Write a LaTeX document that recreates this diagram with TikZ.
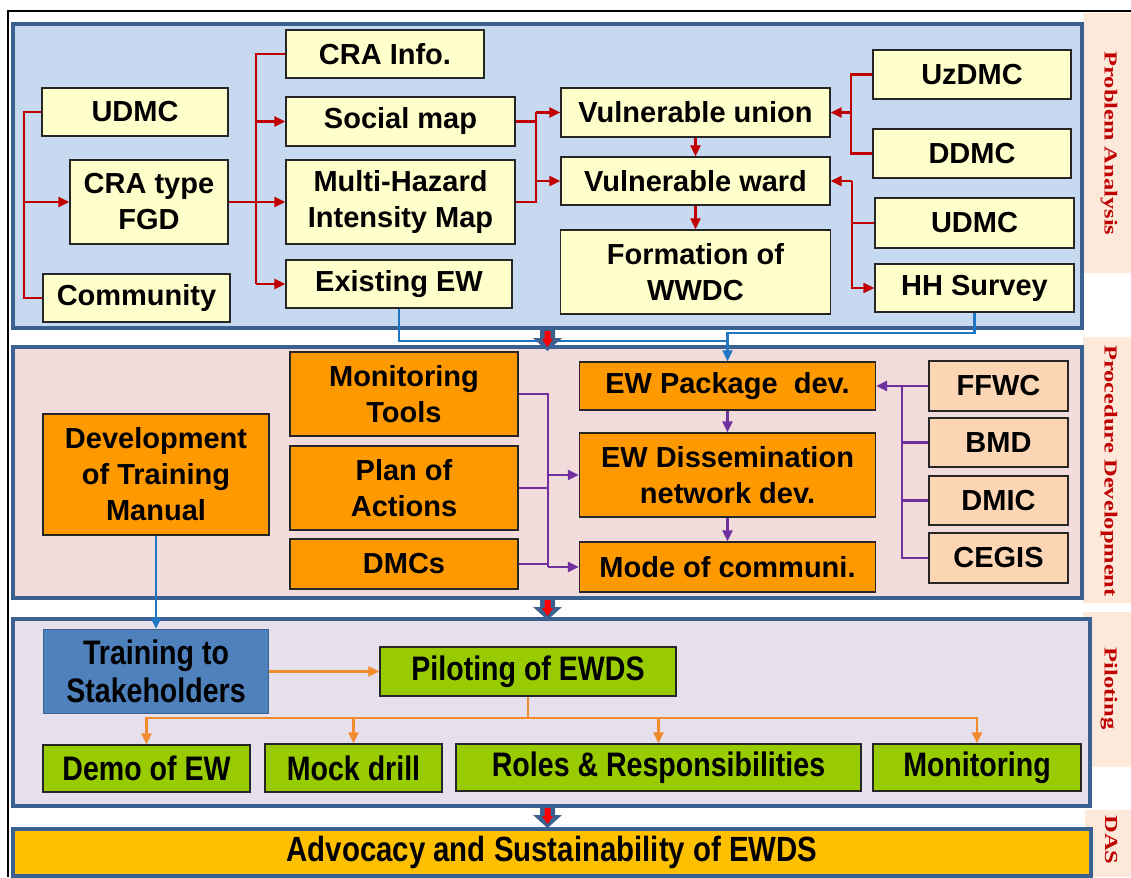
\documentclass[tikz,border=0pt]{standalone}
\usepackage{fontspec}
\setmainfont{Liberation Sans}
\newfontfamily\narrowface{Liberation Sans}[FakeStretch=0.84]
\newfontfamily\serifface{Liberation Serif}
\usetikzlibrary{arrows.meta}

\definecolor{secline}{HTML}{3B6190}
\definecolor{secA}{HTML}{C6D9F1}
\definecolor{secB}{HTML}{F2DCDB}
\definecolor{secC}{HTML}{E5E0EC}
\definecolor{strip}{HTML}{FDE9D9}
\definecolor{labelred}{HTML}{C00000}
\definecolor{boxyellow}{HTML}{FFFFCC}
\definecolor{boxorange}{HTML}{FF9900}
\definecolor{boxpeach}{HTML}{FCD5B5}
\definecolor{boxgreen}{HTML}{99CC00}
\definecolor{boxblue}{HTML}{4F81BD}
\definecolor{boxgold}{HTML}{FFC000}
\definecolor{conred}{HTML}{C00000}
\definecolor{conpurple}{HTML}{7030A0}
\definecolor{conblue}{HTML}{1F77C4}
\definecolor{conorange}{HTML}{F28A30}
\definecolor{flowred}{HTML}{FF0000}

\newcommand\secarrow[1]{%
  \begin{scope}[shift={(0,#1)}]
    \fill[secline] (540,0) -- (555,0) -- (555,9) -- (562,9) -- (547.5,22) -- (533,9) -- (540,9) -- cycle;
    \fill[flowred] (544.5,2) -- (550.5,2) -- (550.5,10) -- (553,10) -- (547.5,18) -- (542,10) -- (544.5,10) -- cycle;
  \end{scope}}

\begin{document}
\begin{tikzpicture}[x=1pt,y=-1pt,
  box/.style={draw=black!85, line width=1.4pt, inner sep=0pt, align=center,
              font=\bfseries\fontsize{29}{36}\selectfont},
  nbox/.style={box, font=\narrowface\bfseries\fontsize{34}{38}\selectfont},
  wh/.style 2 args={minimum width=#1pt, minimum height=#2pt},
  yel/.style={box, fill=boxyellow},
  org/.style={box, fill=boxorange},
  pch/.style={box, fill=boxpeach},
  grn/.style={nbox, fill=boxgreen},
  sec/.style={draw=secline, line width=3.5pt},
  side/.style={rotate=-90, text=labelred, inner sep=0pt,
               font=\serifface\bfseries\fontsize{24.5}{26}\selectfont},
  tip/.style={-{Triangle[length=11pt,width=10pt]}},
  redl/.style={draw=conred, line width=2.4pt},
  purl/.style={draw=conpurple, line width=2.4pt},
  bluel/.style={draw=conblue, line width=2.2pt},
  orgl/.style={draw=conorange, line width=2.4pt},
]
\useasboundingbox (0,0) rectangle (1131,877);
\fill[white] (0,0) rectangle (1131,877);

% outer frame
\draw[line width=1.8pt] (8,877) -- (8,11) -- (1131,11);

% side label strips
\fill[strip] (1083,13) rectangle (1131,273);
\fill[strip] (1083,337) rectangle (1131,603);
\fill[strip] (1083,612) rectangle (1131,767);
\fill[strip] (1085,810) rectangle (1131,877);
\node[side] (lblA) at (1109,143.5) {\scalebox{1}[0.75]{Problem Analysis}};
\node[side] (lblB) at (1109,471) {\scalebox{1}[0.75]{Procedure Development}};
\node[side] (lblC) at (1109,688.5) {\scalebox{1}[0.75]{Piloting}};
\node[side] (lblD) at (1111,840) {\scalebox{1}[0.75]{DAS}};

% section panels
\filldraw[sec, fill=secA] (13,24) rectangle (1082,328);
\filldraw[sec, fill=secB] (13,347) rectangle (1082,598);
\filldraw[sec, fill=secC] (13,619) rectangle (1090,806);

% ---- problem analysis ----
\node[yel, wh={198}{48}] (cra) at (385,54) {CRA Info.};
\node[yel, wh={186}{48}] (udmcL) at (135,112) {UDMC};
\node[yel, wh={158}{84}] (fgd) at (149,202) {CRA type\\FGD};
\node[yel, wh={187}{48}] (comm) at (136.5,298) {Community};
\node[yel, wh={229}{49}] (social) at (400.5,121.5) {Social map};
\node[yel, wh={229}{84}] (mh) at (400.5,202) {Multi-Hazard\\Intensity Map};
\node[yel, wh={226}{48}] (eew) at (399,284) {Existing EW};
\node[yel, wh={269}{49}] (vu) at (695.5,112.5) {Vulnerable union};
\node[yel, wh={269}{48}] (vw) at (695.5,181) {Vulnerable ward};
\node[yel, wh={270}{84}] (wwdc) at (695.5,272) {Formation of\\WWDC};
\node[yel, wh={198}{49}] (uz) at (972,74.5) {UzDMC};
\node[yel, wh={198}{49}] (dd) at (972,153.5) {DDMC};
\node[yel, wh={199}{50}] (udmcR) at (974.5,223) {UDMC};
\node[yel, wh={199}{48}] (hh) at (974.5,288) {HH Survey};

\coordinate (ta) at (24,0);
\coordinate (tb) at (256,0);
\coordinate (tc) at (536,0);
\coordinate (td) at (851,0);
\coordinate (te) at (852,0);

\draw[redl] (udmcL.west) -- (udmcL.west -| ta) -- (comm.west -| ta) -- (comm.west);
\draw[redl,tip] (fgd.west -| ta) -- (fgd.west);
\draw[redl] (cra.west) -- (cra.west -| tb) -- (eew.west -| tb);
\draw[redl,tip] (eew.west -| tb) -- (eew.west);
\draw[redl,tip] (social.west -| tb) -- (social.west);
\draw[redl,tip] (fgd.east) -- (mh.west);
\draw[redl] (vu.west -| tc) -- (mh.east -| tc) -- (mh.east);
\draw[redl] (social.east) -- (social.east -| tc);
\draw[redl,tip] (vu.west -| tc) -- (vu.west);
\draw[redl,tip] (vw.west -| tc) -- (vw.west);
\draw[redl] (uz.west) -- (uz.west -| td) -- (dd.west -| td) -- (dd.west);
\draw[redl,tip] (vu.east -| td) -- (vu.east);
\draw[redl] (udmcR.west) -- (udmcR.west -| te);
\draw[redl,tip] (vw.east -| te) -- (hh.west -| te) -- (hh.west);
\draw[redl,tip] (vw.east -| te) -- (vw.east);
\draw[redl,tip] (vu.south) -- (vw.north);
\draw[redl,tip] (vw.south) -- (wwdc.north);

% ---- procedure development ----
\node[org, wh={228}{84}] (mt) at (404,394) {Monitoring\\Tools};
\node[org, wh={228}{84}] (pa) at (404,488) {Plan of\\Actions};
\node[org, wh={228}{50}] (dmcs) at (404,564) {DMCs};
\node[org, wh={226}{121}] (dtm) at (156,474.5) {Development\\of Training\\Manual};
\node[org, wh={296}{48}] (ewp) at (727.5,386) {EW Package~ dev.};
\node[org, wh={296}{84}] (ewd) at (727.5,475) {EW Dissemination\\network dev.};
\node[org, wh={296}{50}] (mode) at (727.5,567) {Mode of communi.};
\node[pch, wh={139}{50}] (ffwc) at (998.5,386) {FFWC};
\node[pch, wh={139}{49}] (bmd) at (998.5,442.5) {BMD};
\node[pch, wh={139}{49}] (dmic) at (998.5,500.5) {DMIC};
\node[pch, wh={139}{50}] (cegis) at (998.5,558) {CEGIS};

\coordinate (pl) at (548,0);
\coordinate (pr) at (902,0);
\draw[purl] (mt.east) -- (mt.east -| pl) -- (mode.west -| pl);
\draw[purl] (pa.east) -- (pa.east -| pl);
\draw[purl] (dmcs.east) -- (dmcs.east -| pl);
\draw[purl,tip] (ewd.west -| pl) -- (ewd.west);
\draw[purl,tip] (mode.west -| pl) -- (mode.west);
\draw[purl,tip] (ffwc.west) -- (ewp.east);
\draw[purl] (ffwc.west -| pr) -- (cegis.west -| pr) -- (cegis.west);
\draw[purl] (bmd.west) -- (bmd.west -| pr);
\draw[purl] (dmic.west) -- (dmic.west -| pr);
\draw[purl,tip] (ewp.south) -- (ewd.north);
\draw[purl,tip] (ewd.south) -- (mode.north);

% ---- piloting ----
\node[nbox, fill=boxblue, draw=secline, wh={225}{84}] (tts) at (156,671.5) {Training to\\Stakeholders};
\node[grn, wh={296}{49}] (pil) at (528,671.5) {Piloting of EWDS};
\node[grn, wh={207}{47}] (demo) at (146.5,768.5) {Demo of EW};
\node[grn, wh={177}{48}] (mock) at (353.5,768) {Mock drill};
\node[grn, wh={405}{47}] (roles) at (658.5,767.5) {Roles \& Responsibilities};
\node[grn, wh={208}{47}] (mon) at (977,767.5) {Monitoring};

\coordinate (ob) at (528,718);
\draw[orgl,tip] (tts.east) -- (pil.west);
\draw[orgl] (pil.south) -- (ob);
\draw[orgl,tip] (ob) -| (demo.north);
\draw[orgl,tip] (ob) -| (mock.north);
\draw[orgl,tip] (ob) -| (roles.north);
\draw[orgl,tip] (ob) -| (mon.north);

% ---- advocacy and sustainability ----
\node[sec, fill=boxgold, inner sep=0pt, wh={1078}{47},
      font=\narrowface\bfseries\fontsize{35}{40}\selectfont] (das) at (552,852.5)
      {Advocacy and Sustainability of EWDS};

% blue feeds between panels
\coordinate (bh) at (0,333);
\coordinate (bl) at (0,341);
\draw[bluel,tip] (hh.south) -- (hh.south |- bh) -- (ewp.north |- bh) -- (ewp.north);
\draw[bluel] (eew.south) -- (eew.south |- bl) -- (ewp.north |- bl);
\draw[bluel,tip] (dtm.south) -- (dtm.south |- tts.north);

% flow arrows between panels
\secarrow{329}
\secarrow{598}
\secarrow{806}
\end{tikzpicture}
\end{document}
